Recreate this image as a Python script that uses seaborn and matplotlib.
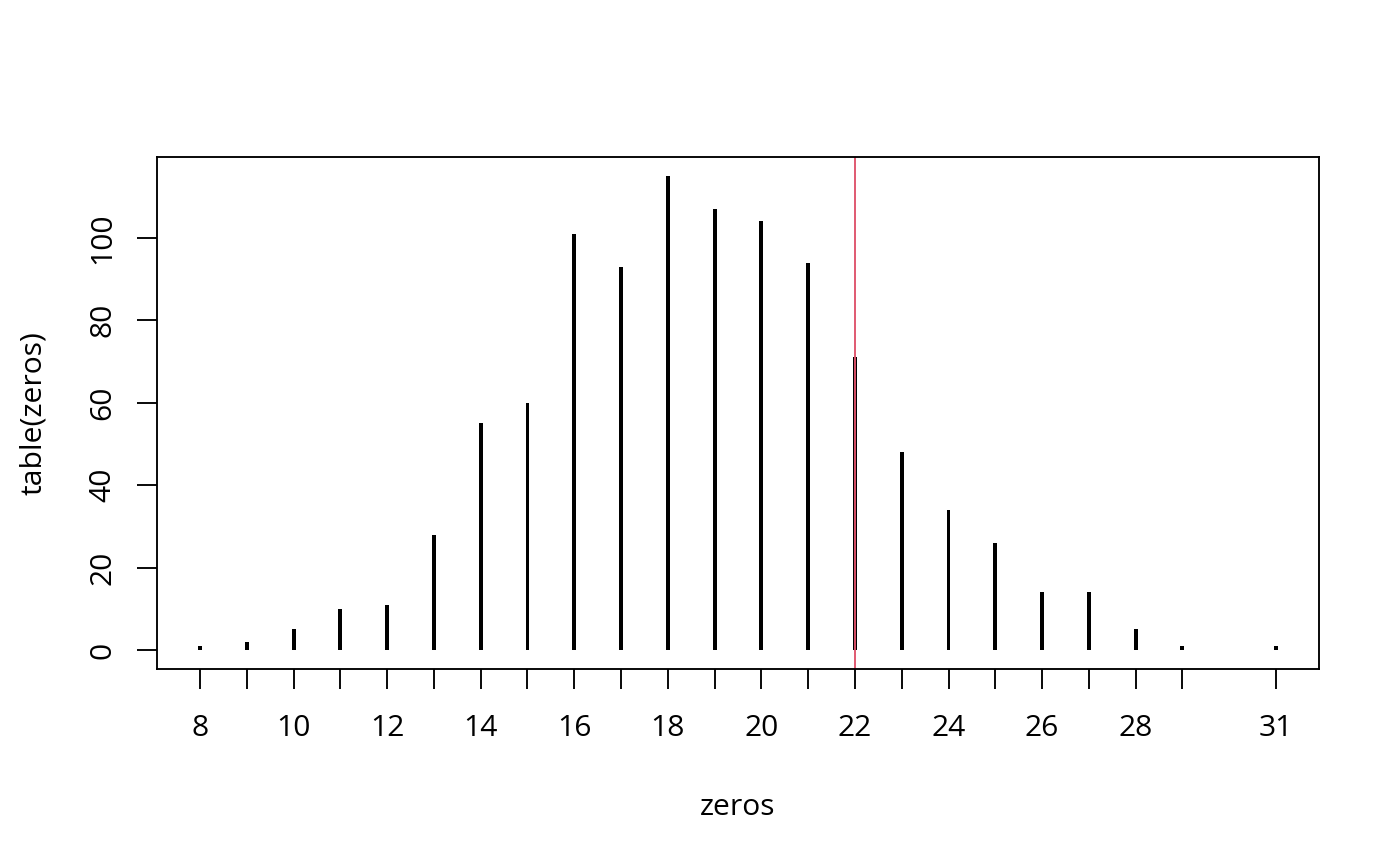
import pandas as pd
import matplotlib
matplotlib.use("Agg")
import matplotlib.pyplot as plt
import seaborn as sns

zeros = [8, 9, 10, 11, 12, 13, 14, 15, 16, 17, 18, 19, 20, 21, 22, 23, 24, 25, 26, 27, 28, 29, 31]
counts = [1, 2, 5, 10, 11, 28, 55, 60, 101, 93, 115, 107, 104, 94, 71, 48, 34, 26, 14, 14, 5, 1, 1]
x_labels = ["8", "", "10", "", "12", "", "14", "", "16", "", "18", "", "20", "", "22", "",
            "24", "", "26", "", "28", "", "31"]
y_ticks = [0, 20, 40, 60, 80, 100]
ref_value = 22


def main():
    df = pd.DataFrame({"zeros": zeros, "count": counts})

    sns.set_theme(style="ticks")
    plt.rcParams["font.family"] = ["Open Sans", "DejaVu Sans"]
    plt.rcParams["font.size"] = 12

    fig = plt.figure(figsize=(1400 / 180, 866 / 180), dpi=180)
    ax = fig.add_axes([157 / 1400, 1 - 669 / 866, (1319 - 157) / 1400, (669 - 157) / 866])

    # spikes like R's plot(table(...)), thin bars at native x positions
    sns.barplot(data=df, x="zeros", y="count", native_scale=True, width=0.085,
                color="black", saturation=1, linewidth=0, ax=ax)
    ax.axvline(ref_value, color="#DF536B", lw=0.75)

    lo, hi = min(zeros), max(zeros)
    ax.set_xlim(lo - 0.04 * (hi - lo), hi + 0.04 * (hi - lo))
    ax.set_ylim(-0.04 * max(counts), 1.04 * max(counts))

    ax.set_xticks(zeros)
    ax.set_xticklabels(x_labels)
    ax.set_yticks(y_ticks)
    ax.tick_params(axis="both", length=8, width=0.75, color="black", labelsize=12, labelcolor="black")
    ax.tick_params(axis="x", pad=10)
    ax.tick_params(axis="y", pad=8)
    for lab in ax.get_yticklabels():
        lab.set_rotation(90)
        lab.set_va("center")

    for s in ax.spines.values():
        s.set_visible(True)
        s.set_color("black")
        s.set_linewidth(0.75)

    ax.set_xlabel("zeros", fontsize=12, color="black", labelpad=20)
    ax.set_ylabel("table(zeros)", fontsize=12, color="black", labelpad=16)

    fig.savefig("out.png", dpi=180, facecolor="white")


if __name__ == "__main__":
    main()
